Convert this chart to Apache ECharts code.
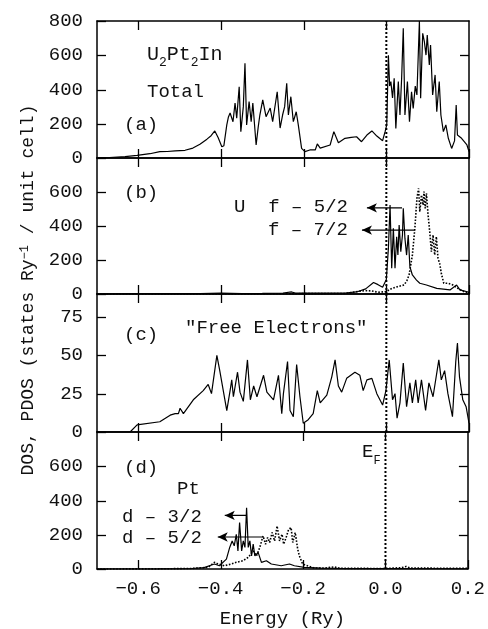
<!DOCTYPE html>
<html><head><meta charset="utf-8">
<script src="https://cdn.jsdelivr.net/npm/echarts@6/dist/echarts.min.js"></script>
<style>html,body{margin:0;padding:0;background:#fff}#c{width:488px;height:629px}</style>
</head><body><div id="c"></div>
<script>
// ---- axis ticks ----
const xTicks = [-0.6, -0.4, -0.2, 0.0, 0.2];
const xTopTicks = [-0.6, -0.4, -0.2, 0.0];
const yTicksA = [0, 200, 400, 600, 800];
const yTicksBD = [0, 200, 400, 600];
const yTicksC = [0, 25, 50, 75];
const fermiEnergy = 0.0;

// ---- (a) total DOS: [energy (Ry), states/Ry/cell] ----
const totalDOS = [[-0.700,0],[-0.670,3],[-0.632,8],[-0.603,15],[-0.572,25],[-0.548,37],[-0.530,38],[-0.511,42],[-0.487,45],[-0.468,58],[-0.451,80],[-0.434,110],[-0.424,130],[-0.415,158],[-0.407,120],[-0.398,66],[-0.393,72],[-0.386,193],[-0.382,240],[-0.378,263],[-0.371,212],[-0.366,321],[-0.362,233],[-0.356,416],[-0.352,154],[-0.346,300],[-0.342,553],[-0.338,193],[-0.332,329],[-0.327,212],[-0.323,321],[-0.315,76],[-0.310,180],[-0.306,251],[-0.299,339],[-0.291,241],[-0.281,292],[-0.275,212],[-0.264,387],[-0.257,175],[-0.251,251],[-0.246,300],[-0.241,436],[-0.237,251],[-0.231,358],[-0.225,212],[-0.218,270],[-0.213,193],[-0.205,56],[-0.197,37],[-0.185,47],[-0.172,47],[-0.167,82],[-0.160,58],[-0.136,76],[-0.127,154],[-0.116,89],[-0.100,115],[-0.085,120],[-0.072,124],[-0.060,95],[-0.047,134],[-0.035,158],[-0.023,128],[-0.009,101],[-0.003,154],[0.001,193],[0.005,600],[0.008,420],[0.011,446],[0.015,350],[0.019,465],[0.023,173],[0.029,446],[0.033,251],[0.037,465],[0.041,757],[0.045,251],[0.051,446],[0.056,212],[0.061,387],[0.065,290],[0.070,420],[0.074,368],[0.080,800],[0.083,349],[0.088,728],[0.092,679],[0.096,601],[0.099,718],[0.104,543],[0.107,660],[0.112,368],[0.118,485],[0.122,270],[0.128,446],[0.132,251],[0.138,154],[0.144,193],[0.150,115],[0.158,56],[0.165,100],[0.169,310],[0.172,134],[0.182,115],[0.195,76],[0.200,37]];

// ---- (b) U f-5/2 (solid) and f-7/2 (dotted) ----
const uF52 = [[-0.700,0],[-0.600,2],[-0.450,3],[-0.400,5],[-0.350,3],[-0.300,4],[-0.250,6],[-0.229,12],[-0.220,5],[-0.150,5],[-0.100,6],[-0.072,12],[-0.050,30],[-0.031,68],[-0.020,55],[-0.009,40],[0.000,85],[0.005,269],[0.009,523],[0.013,151],[0.017,386],[0.021,151],[0.025,337],[0.028,229],[0.031,406],[0.035,249],[0.039,347],[0.041,504],[0.045,327],[0.049,229],[0.053,347],[0.057,161],[0.063,112],[0.073,82],[0.081,63],[0.097,53],[0.122,33],[0.154,24],[0.170,53],[0.178,24],[0.198,12],[0.200,5]];
const uF72 = [[-0.700,0],[-0.300,1],[-0.100,3],[-0.070,15],[-0.050,20],[-0.035,18],[-0.020,10],[0.000,14],[0.011,30],[0.027,43],[0.043,53],[0.050,80],[0.055,112],[0.063,229],[0.069,386],[0.074,562],[0.078,621],[0.081,484],[0.085,582],[0.089,523],[0.091,602],[0.094,504],[0.097,592],[0.101,465],[0.105,366],[0.109,249],[0.113,347],[0.117,229],[0.121,337],[0.125,210],[0.129,180],[0.133,122],[0.139,63],[0.149,63],[0.161,53],[0.173,33],[0.189,12],[0.200,5]];

// ---- (c) "free electrons" ----
const freeElectrons = [[-0.700,0],[-0.620,0],[-0.603,4.6],[-0.548,6.7],[-0.523,11],[-0.511,12],[-0.503,12],[-0.499,15.5],[-0.491,12],[-0.467,21],[-0.443,27],[-0.431,31],[-0.423,25],[-0.410,50],[-0.403,40],[-0.386,14],[-0.378,27],[-0.374,34],[-0.370,23],[-0.360,39],[-0.354,26],[-0.346,20],[-0.336,47],[-0.329,21],[-0.321,30],[-0.313,23],[-0.297,37],[-0.289,26],[-0.273,21],[-0.261,37],[-0.253,12],[-0.249,25],[-0.239,46],[-0.233,14],[-0.225,10],[-0.217,44],[-0.209,23],[-0.201,5.7],[-0.189,8],[-0.177,12],[-0.167,27],[-0.160,19],[-0.144,24],[-0.132,36],[-0.124,47],[-0.116,30],[-0.108,26],[-0.096,35],[-0.076,39],[-0.064,37],[-0.056,27],[-0.047,34],[-0.035,35],[-0.023,25],[-0.009,17.6],[-0.001,27],[0.007,47],[0.015,21],[0.021,25],[0.026,9],[0.033,19],[0.041,45],[0.049,16.5],[0.057,32],[0.063,19],[0.071,34],[0.077,19],[0.085,34],[0.095,14],[0.103,32],[0.113,23],[0.127,47],[0.133,34],[0.141,40],[0.149,25],[0.160,10],[0.168,46],[0.172,58],[0.177,36],[0.185,21],[0.193,16.5],[0.200,5.7]];

// ---- (d) Pt d-3/2 (solid) and d-5/2 (dotted) ----
const ptD32 = [[-0.700,0],[-0.550,1],[-0.470,3],[-0.440,8],[-0.424,22],[-0.415,29],[-0.403,19],[-0.386,58],[-0.378,126],[-0.372,164],[-0.367,135],[-0.362,203],[-0.358,106],[-0.354,271],[-0.349,106],[-0.345,164],[-0.341,126],[-0.337,358],[-0.333,126],[-0.329,164],[-0.325,77],[-0.321,145],[-0.317,77],[-0.309,97],[-0.301,39],[-0.289,48],[-0.277,29],[-0.253,19],[-0.233,29],[-0.221,19],[-0.197,10],[-0.156,5],[-0.100,3],[0.000,2],[0.200,1]];
const ptD52 = [[-0.700,0],[-0.550,1],[-0.470,3],[-0.430,10],[-0.415,39],[-0.407,30],[-0.391,19],[-0.374,29],[-0.362,39],[-0.346,48],[-0.333,68],[-0.321,106],[-0.313,77],[-0.305,126],[-0.297,193],[-0.291,145],[-0.286,184],[-0.281,155],[-0.275,213],[-0.269,164],[-0.263,251],[-0.257,164],[-0.251,203],[-0.247,145],[-0.241,184],[-0.235,232],[-0.229,242],[-0.225,155],[-0.219,213],[-0.213,116],[-0.209,77],[-0.201,29],[-0.189,19],[-0.173,6],[-0.150,5],[-0.124,12],[-0.110,4],[0.000,3],[0.040,8],[0.050,15],[0.060,6],[0.150,4],[0.200,4]];

// ---- label arrows (from x1 to x2 at level y, data units) ----
const arrowsB = [[0.038, 507, -0.047], [0.069, 376, -0.059]];
const arrowsD = [[-0.337, 313, -0.390], [-0.298, 187, -0.407]];

const FONT = "'Liberation Mono', 'DejaVu Sans Mono', monospace";
const BLACK = '#000';
const TICK_LEN = 9;

const grids = [
  {left: 97, right: 19, top: 21, height: 137},
  {left: 97, right: 19, top: 158, height: 136},
  {left: 97, right: 19, top: 294, height: 138},
  {left: 97, right: 19, top: 432, height: 138}
];
const yMax = [800, 800, 90, 800];
const yLab = [yTicksA, yTicksBD, yTicksC, yTicksBD];
const yRightTicks = [[200,400,600],[200,400,600],[25,50,75],[200,400,600]];

const xAxes = [], yAxes = [];
const lineStyleAxis = {color: BLACK, width: 1.5};
for (let i = 0; i < 4; i++) {
  const last = i === 3;
  const xb = {
    gridIndex: i, type: 'value', min: -0.7, max: 0.2, position: 'bottom',
    axisLine: {show: true, onZero: false, lineStyle: lineStyleAxis},
    axisTick: {show: false},
    axisLabel: {show: last, customValues: xTicks, margin: 10, color: '#111', fontFamily: FONT, fontSize: 19,
      formatter: v => (v < -1e-9 ? '\u2212' : '') + Math.abs(v).toFixed(1)},
    splitLine: {show: false}
  };
  if (last) {
    xb.name = 'Energy (Ry)'; xb.nameLocation = 'middle'; xb.nameGap = 40;
    xb.nameTextStyle = {color: '#111', fontFamily: FONT, fontSize: 19};
  }
  xAxes.push(xb);
  xAxes.push({
    gridIndex: i, type: 'value', min: -0.7, max: 0.2, position: 'top',
    axisLine: {show: true, onZero: false, lineStyle: lineStyleAxis},
    axisTick: {show: false}, axisLabel: {show: false}, splitLine: {show: false}
  });
  yAxes.push({
    gridIndex: i, type: 'value', min: 0, max: yMax[i], position: 'left',
    axisLine: {show: true, onZero: false, lineStyle: lineStyleAxis},
    axisTick: {show: false},
    axisLabel: {show: true, customValues: yLab[i], margin: 14, color: '#111', fontFamily: FONT, fontSize: 19},
    splitLine: {show: false}
  });
  yAxes.push({
    gridIndex: i, type: 'value', min: 0, max: yMax[i], position: 'right',
    axisLine: {show: true, onZero: false, lineStyle: lineStyleAxis},
    axisTick: {show: false}, axisLabel: {show: false}, splitLine: {show: false}
  });
}

function line(idx, data, dotted) {
  const s = {
    type: 'line', xAxisIndex: 2 * idx, yAxisIndex: 2 * idx, data: data,
    showSymbol: false, symbol: 'none', smooth: false, clip: true,
    lineStyle: {color: BLACK, width: dotted ? 1.6 : 1.2, type: dotted ? [1.6, 1.6] : 'solid'}
  };
  if (dotted) s.zlevel = 1;
  return s;
}
function fermiLine(idx) {
  return {
    type: 'line', xAxisIndex: 2 * idx, yAxisIndex: 2 * idx, zlevel: 1,
    data: [[fermiEnergy, 0], [fermiEnergy, yMax[idx]]],
    showSymbol: false, symbol: 'none', clip: false,
    lineStyle: {color: BLACK, width: 2, type: [2, 2]}
  };
}
function arrowSeries(idx, a) {
  return {
    type: 'line', xAxisIndex: 2 * idx, yAxisIndex: 2 * idx, zlevel: 1,
    symbol: 'none', showSymbol: true, clip: false,
    itemStyle: {color: BLACK},
    lineStyle: {color: BLACK, width: 1.2},
    data: [
      {value: [a[0], a[1]], symbol: 'none'},
      {value: [a[2], a[1]], symbol: 'arrow', symbolSize: [7, 10], symbolRotate: 90}
    ]
  };
}

const series = [
  line(0, totalDOS, false),
  line(1, uF52, false),
  line(2, freeElectrons, false),
  line(3, ptD32, false),
  line(1, uF72, true),
  line(3, ptD52, true),
  fermiLine(0), fermiLine(1), fermiLine(2), fermiLine(3)
];
arrowsB.forEach(a => series.push(arrowSeries(1, a)));
arrowsD.forEach(a => series.push(arrowSeries(3, a)));

const tFont = 19;
function txt(x, y, text, rich, size) {
  return {type: 'text', x: x, y: y, z: 100, zlevel: 1, style: {
    text: text, fill: '#111', font: (size || tFont) + 'px ' + FONT,
    textAlign: 'left', textVerticalAlign: 'middle', rich: rich || undefined}};
}
const subRich = {
  m: {fontSize: 20, fontFamily: FONT, fill: '#111', verticalAlign: 'bottom'},
  s: {fontSize: 13, fontFamily: FONT, fill: '#111', verticalAlign: 'bottom', padding: [0, 0, -4, 0]}
};

const graphicTexts = [
  txt(147, 55, '{m|U}{s|2}{m|Pt}{s|2}{m|In}', subRich),
  txt(147, 92, 'Total'),
  txt(124, 125, '(a)'),
  txt(124, 193, '(b)'),
  txt(234, 207, 'U  f \u2013 5/2'),
  txt(268, 230, 'f \u2013 7/2'),
  txt(124, 335, '(c)'),
  txt(185, 328, '"Free Electrons"'),
  txt(362, 452, '{m|E}{s|F}', {
    m: {fontSize: 19, fontFamily: FONT, fill: '#111', verticalAlign: 'bottom'},
    s: {fontSize: 12, fontFamily: FONT, fill: '#111', verticalAlign: 'bottom', padding: [0, 0, -5, 0]}
  }),
  txt(124, 468, '(d)'),
  txt(177, 489, 'Pt'),
  txt(122, 517, 'd \u2013 3/2'),
  txt(122, 538, 'd \u2013 5/2'),
  {type: 'text', x: 28, y: 290, rotation: Math.PI / 2, z: 100, zlevel: 1, style: {
    text: '{m|DOS, PDOS (states Ry}{p|\u22121}{m| / unit cell)}',
    textAlign: 'center', textVerticalAlign: 'middle', fill: '#111',
    rich: {
      m: {fontSize: 18, fontFamily: FONT, fill: '#111', verticalAlign: 'bottom'},
      p: {fontSize: 12, fontFamily: FONT, fill: '#111', verticalAlign: 'top'}
    }}}
];

const chart = echarts.init(document.getElementById('c'), null, {renderer: 'canvas'});
chart.setOption({
  animation: false,
  backgroundColor: '#fff',
  grid: grids,
  xAxis: xAxes,
  yAxis: yAxes,
  series: series,
  graphic: graphicTexts
});

// inward tick marks, placed through the axes' own scales
function tickSeg(x1, y1, x2, y2) {
  return {type: 'line', silent: true, z: 50, zlevel: 1,
    shape: {x1: x1, y1: y1, x2: x2, y2: y2},
    style: {stroke: BLACK, lineWidth: 1.3}};
}
const tickEls = [];
for (let i = 0; i < 4; i++) {
  const xb = {xAxisIndex: 2 * i}, yl = {yAxisIndex: 2 * i};
  const xL = chart.convertToPixel(xb, -0.7), xR = chart.convertToPixel(xb, 0.2);
  const yB = chart.convertToPixel(yl, 0), yT = chart.convertToPixel(yl, yMax[i]);
  xTicks.forEach(v => {
    const px = Math.round(chart.convertToPixel(xb, v)) + 0.5;
    tickEls.push(tickSeg(px, yB, px, yB - TICK_LEN));
  });
  xTopTicks.forEach(v => {
    const px = Math.round(chart.convertToPixel(xb, v)) + 0.5;
    tickEls.push(tickSeg(px, yT, px, yT + TICK_LEN));
  });
  yLab[i].forEach(v => {
    const py = Math.round(chart.convertToPixel(yl, v)) + 0.5;
    tickEls.push(tickSeg(xL, py, xL + TICK_LEN, py));
  });
  yRightTicks[i].forEach(v => {
    const py = Math.round(chart.convertToPixel(yl, v)) + 0.5;
    tickEls.push(tickSeg(xR, py, xR - TICK_LEN, py));
  });
}
chart.setOption({graphic: graphicTexts.concat(tickEls)});
</script>
</body></html>
